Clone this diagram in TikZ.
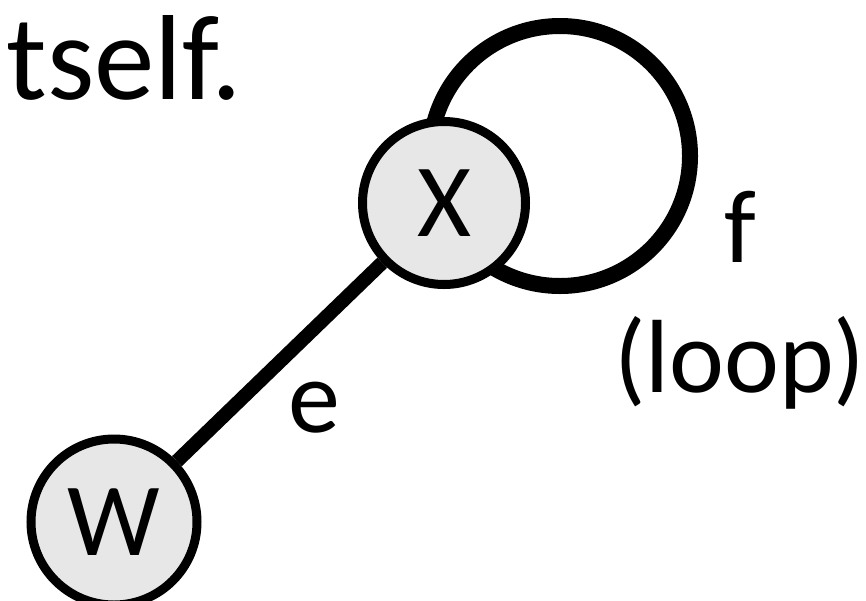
\documentclass[tikz,border=0pt]{standalone}
\usepackage{fontspec}
\setmainfont{Carlito}
\definecolor{nodegray}{HTML}{E7E7E7}
\begin{document}
\begin{tikzpicture}[x=1pt,y=-1pt,
  vertex/.style={circle,draw=black,line width=9pt,fill=nodegray,minimum size=163pt,inner sep=0pt,
    font=\fontsize{104}{110}\selectfont},
  lbl/.style={inner sep=0pt,font=\fontsize{104}{110}\selectfont},
  edgeline/.style={line width=14pt,draw=black},
  loopline/.style={line width=16pt,draw=black}]
\useasboundingbox (0,0) rectangle (866,600);
\node[inner sep=0pt,anchor=base east,font=\fontsize{121}{130}\selectfont] (title) at (242,99) {tself.};
\coordinate (loopc) at (560,156);
\draw[loopline] (loopc) circle[radius=130];
\node[vertex] (X) at (444,203) {X};
\node[vertex,minimum size=166pt] (W) at (114,522) {W};
\draw[edgeline] (W) -- (X);
\node[lbl,anchor=base] (e) at (314,432) {e};
\node[lbl,anchor=base] (f) at (740,262) {f};
\node[lbl,anchor=base] (loop) at (740,392) {(loop)};
\end{tikzpicture}
\end{document}
